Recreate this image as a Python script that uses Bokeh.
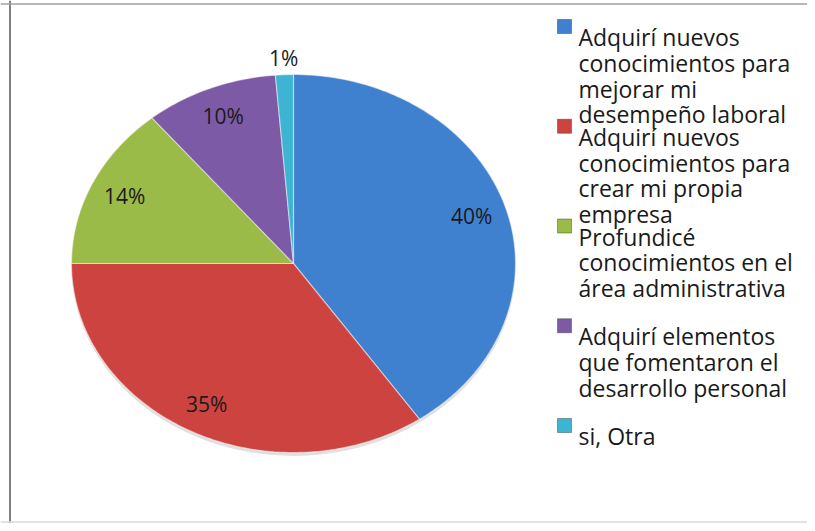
import math
from bokeh.plotting import figure
from bokeh.models import Range1d, Span
from bokeh.core.properties import value
from bokeh.embed import file_html
from bokeh.resources import INLINE

# ---- data ----
categories = [
    "Adquirí nuevos conocimientos para mejorar mi desempeño laboral",
    "Adquirí nuevos conocimientos para crear mi propia empresa",
    "Profundicé conocimientos en el área administrativa",
    "Adquirí elementos que fomentaron el desarrollo personal",
    "si, Otra",
]
legend_lines = [
    ["Adquirí nuevos", "conocimientos para", "mejorar mi", "desempeño laboral"],
    ["Adquirí nuevos", "conocimientos para", "crear mi propia", "empresa"],
    ["Profundicé", "conocimientos en el", "área administrativa"],
    ["Adquirí elementos", "que fomentaron el", "desarrollo personal"],
    ["si, Otra"],
]
percentages = [40.4, 34.6, 14.0, 9.7, 1.3]
colors = ["#3F80CF", "#CD433F", "#9ABB48", "#7D5AA6", "#3EB4D3"]

# ---- layout (image pixels) ----
W, H = 807, 523
PX0, PY0 = 0, 0
CX, CY, RX, RY = 293, 263, 222, 189

def px2x(px):
    return (px - CX) / RX

def py2y(py):
    return (CY - py) / RY

p = figure(width=W, height=H, output_backend="svg", toolbar_location=None,
           x_range=Range1d(px2x(PX0), px2x(PX0 + W)),
           y_range=Range1d(py2y(PY0 + H), py2y(PY0)),
           min_border=0)
p.axis.visible = False
p.grid.visible = False
p.outline_line_color = None
p.background_fill_color = "white"
p.border_fill_color = "white"

# frame lines
p.add_layout(Span(location=px2x(9.5), dimension="height", line_color="#7f7f7f", line_width=2))
p.add_layout(Span(location=py2y(3.5), dimension="width", line_color="#a0a0a0", line_width=1.5))
p.add_layout(Span(location=py2y(521.5), dimension="width", line_color="#d9d9d9", line_width=1.5))

# shadow
p.ellipse(x=0, y=-0.018, width=2.0, height=2.0, fill_color="#000000", fill_alpha=0.12, line_color=None)

# slices
total = sum(percentages)
xs, ys, lx, ly, ltxt = [], [], [], [], []
cum = 0.0
for v in percentages:
    a0 = cum / total * 2 * math.pi
    cum += v
    a1 = cum / total * 2 * math.pi
    n = max(3, int((a1 - a0) / (2 * math.pi) * 400))
    px = [0.0]
    py = [0.0]
    for k in range(n + 1):
        t = a0 + (a1 - a0) * k / n
        px.append(math.sin(t))
        py.append(math.cos(t))
    xs.append(px)
    ys.append(py)
    am = (a0 + a1) / 2
    f = 0.84 if v / total >= 0.05 else 1.09
    lx.append(f * math.sin(am))
    ly.append(f * math.cos(am))
    ltxt.append(f"{round(v)}%")

p.patches(xs=xs, ys=ys, fill_color=colors, line_color="#ffffff", line_alpha=0.45, line_width=1.2)

p.text(x=lx, y=ly, text=ltxt, text_font=value("Open Sans"), text_font_size="21px",
       text_color="#1a1a1a", text_align="center", text_baseline="middle")

# legend
TX, SQX = 578, 564
tx, ty, tt = [], [], []
sx, sy = [], []
for i, lines in enumerate(legend_lines):
    base = 36.5 + 99.75 * i
    sx.append(px2x(SQX))
    sy.append(py2y(base - 10.5))
    for j, line in enumerate(lines):
        tx.append(px2x(TX))
        ty.append(py2y(base + 25.8 * j))
        tt.append(line)

p.scatter(x=sx, y=sy, marker="square", size=14, fill_color=colors, line_color="#2b2b2b", line_alpha=0.4)
p.text(x=tx, y=ty, text=tt, text_font=value("Open Sans"), text_font_size="23px",
       text_color="#1a1a1a", text_align="left", text_baseline="alphabetic")

open("out.html", "w").write(file_html(p, INLINE))
